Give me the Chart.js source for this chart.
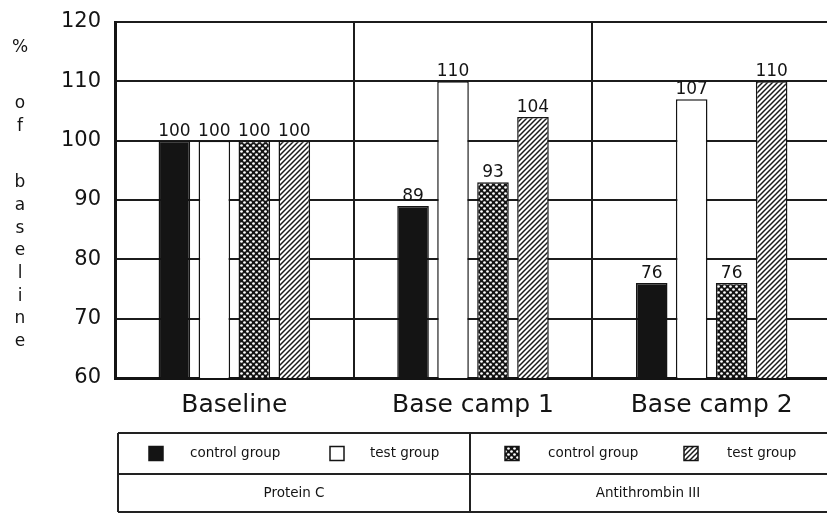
<!DOCTYPE html>
<html>
<head>
<meta charset="utf-8">
<script src="https://cdn.jsdelivr.net/npm/chart.js@4"></script>
<style>
  html, body { margin: 0; padding: 0; background: #fff; overflow: hidden; width: 827px; height: 513px; }
  #wrap { position: relative; width: 832px; height: 513px; }
</style>
</head>
<body>
<div id="wrap"><canvas id="c" width="832" height="513"></canvas></div>
<script>
// Plasma levels relative to baseline (%)
const categories = ['Baseline', 'Base camp 1', 'Base camp 2'];
const proteinCControl = [100, 89, 76];
const proteinCTest = [100, 110, 107];
const antithrombinControl = [100, 93, 76];
const antithrombinTest = [100, 104, 110];
const yTicks = [60, 70, 80, 90, 100, 110, 120];
const seriesNames = ['control group', 'test group', 'control group', 'test group'];
const groupNames = ['Protein C', 'Antithrombin III'];
const axisTitleWords = ['%', 'of', 'baseline'];

const INK = '#141414';
const FONT = 'DejaVu Sans';

function checkerPattern() {
  const t = document.createElement('canvas');
  t.width = 6; t.height = 6;
  const g = t.getContext('2d');
  g.fillStyle = INK;
  g.fillRect(0, 0, 6, 6);
  g.fillStyle = '#fff';
  [[1.5, 1.5], [4.5, 4.5]].forEach(([x, y]) => {
    g.beginPath(); g.arc(x, y, 1.35, 0, Math.PI * 2); g.fill();
  });
  return g.createPattern(t, 'repeat');
}

function hatchPattern() {
  const s = 5;
  const t = document.createElement('canvas');
  t.width = s; t.height = s;
  const g = t.getContext('2d');
  g.fillStyle = '#fff';
  g.fillRect(0, 0, s, s);
  g.strokeStyle = '#1a1a1a';
  g.lineWidth = 1.5;
  g.beginPath();
  g.moveTo(-1, 1); g.lineTo(1, -1);
  g.moveTo(0, s); g.lineTo(s, 0);
  g.moveTo(s - 1, s + 1); g.lineTo(s + 1, s - 1);
  g.stroke();
  return g.createPattern(t, 'repeat');
}

const fills = [INK, '#ffffff', checkerPattern(), hatchPattern()];
const seriesData = [proteinCControl, proteinCTest, antithrombinControl, antithrombinTest];

const datasets = seriesData.map((d, i) => ({
  label: seriesNames[i],
  data: d,
  backgroundColor: fills[i],
  borderColor: INK,
  borderWidth: 1.5,
  borderSkipped: false,
  categoryPercentage: 0.67,
  barPercentage: 0.79
}));

// value printed above each bar
const valueLabels = {
  id: 'valueLabels',
  afterDatasetsDraw(chart) {
    const ctx = chart.ctx;
    ctx.save();
    ctx.font = '17px "' + FONT + '"';
    ctx.fillStyle = INK;
    ctx.textAlign = 'center';
    ctx.textBaseline = 'bottom';
    chart.data.datasets.forEach((ds, i) => {
      chart.getDatasetMeta(i).data.forEach((bar, j) => {
        ctx.fillText(String(ds.data[j]), bar.x, bar.y - 1);
      });
    });
    ctx.restore();
  }
};

// stacked-letter y title and the legend table underneath
const decorations = {
  id: 'decorations',
  afterDraw(chart) {
    const ctx = chart.ctx;
    ctx.save();
    ctx.fillStyle = INK;
    ctx.textAlign = 'center';
    ctx.textBaseline = 'middle';
    ctx.font = '17px "' + FONT + '"';
    const lineStep = 22.7, wordStep = 56;
    let y = 48;
    axisTitleWords.forEach((word, w) => {
      if (w > 0) y += wordStep;
      [...word].forEach((ch, k) => {
        if (k > 0) y += lineStep;
        ctx.fillText(ch, 20, y);
      });
    });

    // table grid
    const left = 118, mid = 470, right = 826;
    const top = 433, row = 474, bottom = 512;
    ctx.strokeStyle = '#222';
    ctx.lineWidth = 2;
    ctx.beginPath();
    ctx.moveTo(left, top); ctx.lineTo(840, top);
    ctx.moveTo(left, row); ctx.lineTo(840, row);
    ctx.moveTo(left, bottom); ctx.lineTo(840, bottom);
    ctx.moveTo(left, top); ctx.lineTo(left, bottom);
    ctx.moveTo(mid, top); ctx.lineTo(mid, bottom);
    ctx.stroke();

    // swatches and series names
    const swatchX = [149, 330, 505, 684];
    const textX = [190, 370, 548, 727];
    const rowMid = (top + row) / 2;
    ctx.font = '13.5px "' + FONT + '"';
    ctx.textAlign = 'left';
    chart.data.datasets.forEach((ds, i) => {
      ctx.fillStyle = ds.backgroundColor;
      ctx.fillRect(swatchX[i], rowMid - 7, 14, 14);
      ctx.strokeStyle = INK;
      ctx.lineWidth = 1.5;
      ctx.strokeRect(swatchX[i], rowMid - 7, 14, 14);
      ctx.fillStyle = INK;
      ctx.fillText(ds.label, textX[i], rowMid);
    });

    ctx.textAlign = 'center';
    const row2Mid = (row + bottom) / 2;
    ctx.fillText(groupNames[0], (left + mid) / 2, row2Mid);
    ctx.fillText(groupNames[1], (mid + right) / 2, row2Mid);
    ctx.restore();
  }
};

Chart.defaults.font.family = FONT;
Chart.defaults.color = INK;

new Chart(document.getElementById('c'), {
  type: 'bar',
  data: { labels: categories, datasets },
  options: {
    responsive: false,
    animation: false,
    layout: { padding: { top: 22, right: 1, left: 0, bottom: 0 } },
    plugins: { legend: { display: false }, tooltip: { enabled: false } },
    scales: {
      x: {
        grid: { offset: true, color: '#1c1c1c', lineWidth: 2, drawTicks: false },
        border: { display: true, color: INK, width: 3 },
        ticks: { font: { size: 25 }, color: INK, padding: 12 },
        afterFit(scale) { scale.height = 135; scale.paddingLeft = 0; scale.paddingRight = 0; }
      },
      y: {
        min: yTicks[0],
        max: yTicks[yTicks.length - 1],
        afterBuildTicks(scale) { scale.ticks = yTicks.map(v => ({ value: v })); },
        grid: { color: '#1c1c1c', lineWidth: 2, drawTicks: false },
        border: { display: true, color: INK, width: 3 },
        ticks: { font: { size: 21 }, color: INK, padding: 14 },
        afterFit(scale) { scale.width = 115; scale.paddingTop = 0; scale.paddingBottom = 0; }
      }
    }
  },
  plugins: [valueLabels, decorations]
});
</script>
</body>
</html>
